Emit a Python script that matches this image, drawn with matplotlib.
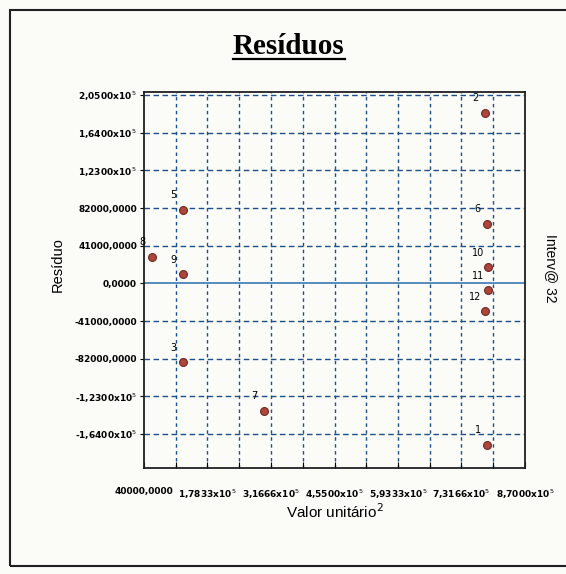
import matplotlib.pyplot as plt
from matplotlib.lines import Line2D
from matplotlib.patches import Rectangle
from matplotlib.ticker import FixedLocator, FixedFormatter

# residual points (point number, x value, residual)
point_ids = [1, 2, 3, 5, 6, 7, 8, 9, 10, 11, 12]
x_vals = [788000, 783000, 126000, 126000, 788000, 302000, 56800, 126000, 789000, 789000, 783000]
residuals = [-176000, 185500, -86000, 80100, 64500, -138500, 28700, 9800, 17500, -7650, -30600]

x_ticks = [40000, 178333, 316666, 455000, 593333, 731666, 870000]
x_labels = ['40000,0000', r'1,7833x10$^5$', r'3,1666x10$^5$', r'4,5500x10$^5$',
            r'5,9333x10$^5$', r'7,3166x10$^5$', r'8,7000x10$^5$']
y_ticks = [-164000, -123000, -82000, -41000, 0, 41000, 82000, 123000, 164000, 205000]
y_labels = [r'-1,6400x10$^5$', r'-1,2300x10$^5$', '-82000,0000', '-41000,0000', '0,0000',
            '41000,0000', '82000,0000', r'1,2300x10$^5$', r'1,6400x10$^5$', r'2,0500x10$^5$']

grid_col = '#1d4f8a'
bg = '#fbfbf8'
tick_font = ['Liberation Sans Narrow', 'DejaVu Sans']

fig = plt.figure(figsize=(5.66, 5.74), dpi=100, facecolor=bg)
ax = fig.add_axes([144 / 566, 1 - 468 / 574, (525 - 144) / 566, (468 - 92) / 574])
ax.set_facecolor(bg)

ax.set_xlim(40000, 870000)
ax.set_ylim(-201000, 208300)

minor_x = [(a + b) / 2 for a, b in zip(x_ticks[:-1], x_ticks[1:])]
ax.xaxis.set_major_locator(FixedLocator(x_ticks))
ax.xaxis.set_major_formatter(FixedFormatter(x_labels))
ax.xaxis.set_minor_locator(FixedLocator(minor_x))
ax.yaxis.set_major_locator(FixedLocator(y_ticks))
ax.yaxis.set_major_formatter(FixedFormatter(y_labels))

for t in ax.get_xticklabels() + ax.get_yticklabels():
    t.set_family(tick_font)
    t.set_fontsize(6.5)
    t.set_fontweight('bold')

ax.tick_params(axis='x', which='both', direction='in', length=4, width=0.8, pad=14)
ax.tick_params(axis='y', which='major', direction='out', length=3, width=0.8, pad=2)

for xv in x_ticks[1:-1] + minor_x:
    ax.axvline(xv, color=grid_col, lw=1, ls=(0, (2.5, 2.5)), zorder=1)
for yv in y_ticks:
    if yv != 0:
        ax.axhline(yv, color=grid_col, lw=1, ls=(0, (4, 2.5)), zorder=1)
ax.axhline(0, color='#3a78b5', lw=1.2, zorder=1)

for s in ax.spines.values():
    s.set_linewidth(1.3)
    s.set_color('#202020')

ax.scatter(x_vals, residuals, s=32, color='#b0443a', edgecolors='#6a2a22',
           linewidths=0.8, zorder=3)
for pid, xv, yv in zip(point_ids, x_vals, residuals):
    ax.annotate(str(pid), (xv, yv), xytext=(-7, 7), textcoords='offset points',
                fontsize=7, ha='center', va='bottom', family=tick_font, zorder=4)

ax.set_xlabel(r'Valor unitário$^2$', fontsize=11, family=['Liberation Sans', 'DejaVu Sans'],
              labelpad=1)
fig.text(58 / 566, 1 - 265 / 574, 'Resíduo', rotation=90, fontsize=10.5,
         family=['Liberation Sans', 'DejaVu Sans'], ha='center', va='center')
fig.text(551 / 566, 1 - 268 / 574, 'Interv@ 32', rotation=270, fontsize=10,
         family=['Liberation Sans', 'DejaVu Sans'], ha='center', va='center')

title = fig.text(0.51, 1 - 47 / 574, 'Resíduos', fontsize=21, fontweight='bold',
                 family=['Liberation Serif', 'DejaVu Serif'], ha='center', va='center')

# outer frame
fig.add_artist(Rectangle((10 / 566, 1 - 566 / 574), 560 / 566, 556 / 574,
                         transform=fig.transFigure, fill=False, ec='#202020', lw=1.5))

# underline for the title
fig.canvas.draw()
bb = title.get_window_extent().transformed(fig.transFigure.inverted())
fig.add_artist(Line2D([bb.x0, bb.x1], [bb.y0 + 0.002, bb.y0 + 0.002],
                      transform=fig.transFigure, color='black', lw=1.6))

fig.savefig('out.png', dpi=100, facecolor=bg)
